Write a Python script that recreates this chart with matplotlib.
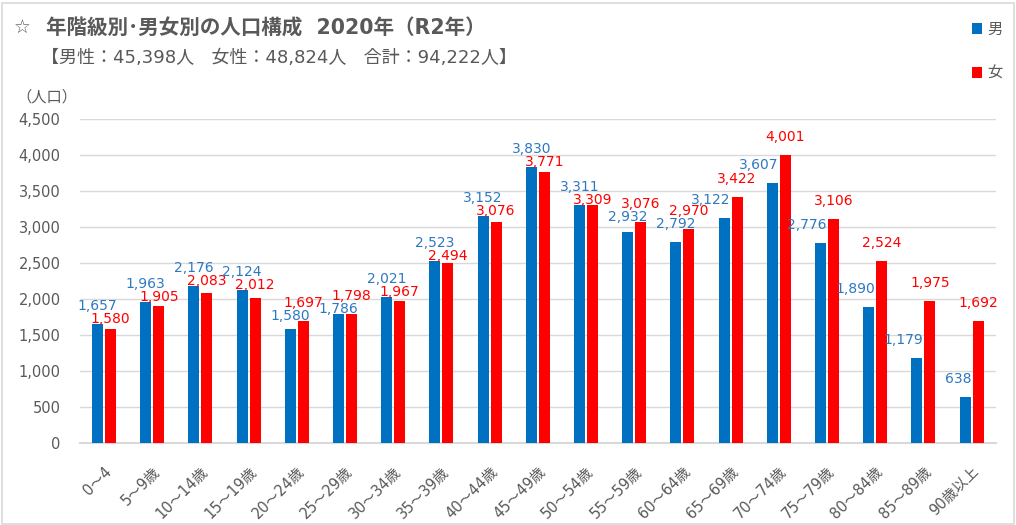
import numpy as np
import matplotlib.pyplot as plt
from matplotlib.patches import Rectangle

plt.rcParams['font.family'] = ['DejaVu Sans', 'Noto Sans CJK JP']

ages = ['0～4', '5～9歳', '10～14歳', '15～19歳', '20～24歳', '25～29歳', '30～34歳',
        '35～39歳', '40～44歳', '45～49歳', '50～54歳', '55～59歳', '60～64歳',
        '65～69歳', '70～74歳', '75～79歳', '80～84歳', '85～89歳', '90歳以上']
male = [1657, 1963, 2176, 2124, 1580, 1786, 2021, 2523, 3152, 3830,
        3311, 2932, 2792, 3122, 3607, 2776, 1890, 1179, 638]
female = [1580, 1905, 2083, 2012, 1697, 1798, 1967, 2494, 3076, 3771,
          3309, 3076, 2970, 3422, 4001, 3106, 2524, 1975, 1692]
yticks = [0, 500, 1000, 1500, 2000, 2500, 3000, 3500, 4000, 4500]

BLUE = '#0070C0'
RED = '#FF0000'
GREY = '#595959'

fig = plt.figure(figsize=(10.16, 5.25), dpi=100)
ax = fig.add_axes([0.0787, 0.1562, 0.9013, 0.6171])

x = np.arange(len(ages))
w = 0.23
off = 0.135
bm = ax.bar(x - off, male, w, color=BLUE, label='男', zorder=3)
bf = ax.bar(x + off, female, w, color=RED, label='女', zorder=3)

ax.set_xlim(-0.5, len(ages) - 0.5)
ax.set_ylim(0, 4500)

# data labels, placed like Excel does: 18px above the bar, nudged when they collide
ppu = ax.bbox.height / 4500  # pixels per person
pt = 72 / fig.dpi
for i in range(len(ages)):
    hm = male[i] * ppu + 18
    hf = female[i] * ppu + 18
    if abs(hm - hf) < 13:
        if male[i] >= female[i]:
            hf = hm - 13
        else:
            hm = hf - 13
    if female[i] * ppu > hm - 4:
        ax.annotate(f'{male[i]:,}', (x[i] + off - w / 2, 0), xytext=(-1 * pt, hm * pt),
                    textcoords='offset points', ha='right', va='center',
                    fontsize=10, color='#2E78C2', annotation_clip=False)
    else:
        ax.annotate(f'{male[i]:,}', (x[i] - off, 0), xytext=(0, hm * pt),
                    textcoords='offset points', ha='center', va='center',
                    fontsize=10, color='#2E78C2', annotation_clip=False)
    ax.annotate(f'{female[i]:,}', (x[i] + off, 0), xytext=(0, hf * pt),
                textcoords='offset points', ha='center', va='center',
                fontsize=10, color=RED, annotation_clip=False)

ax.set_yticks(yticks)
ax.set_yticklabels([f'{v:,}' for v in yticks], fontsize=10.5, color=GREY)
ax.set_xticks(x)
ax.set_xticklabels(ages, rotation=45, ha='right', rotation_mode='anchor',
                   fontsize=10.5, color=GREY)
ax.tick_params(axis='both', length=0)
ax.tick_params(axis='y', pad=14)
ax.tick_params(axis='x', pad=15)
ax.grid(axis='y', color='#D9D9D9', linewidth=1, zorder=0)
for s in ['top', 'right', 'left']:
    ax.spines[s].set_visible(False)
ax.spines['bottom'].set_color('#D9D9D9')
ax.spines['bottom'].set_linewidth(1.5)

fig.text(0.014, 0.945, '☆', fontsize=13.5, color=GREY, va='center',
         family=['DejaVu Sans'])
fig.text(0.045, 0.945, '年階級別･男女別の人口構成  2020年（R2年）',
         fontsize=14.8, fontweight='bold', color=GREY, va='center',
         family=['DejaVu Sans', 'Noto Sans CJK JP'])
fig.text(0.040, 0.889, '【男性：45,398人   女性：48,824人   合計：94,222人】',
         fontsize=13, color=GREY, va='center',
         family=['DejaVu Sans', 'Noto Sans CJK JP'])
fig.text(0.016, 0.815, '（人口）', fontsize=11, color=GREY, va='center',
         family=['Noto Sans CJK JP'])

fig.legend(handles=[bm, bf], loc='upper right', bbox_to_anchor=(1.0, 0.985),
           frameon=False, handlelength=0.7, handleheight=0.7, handletextpad=0.3,
           labelspacing=1.9, fontsize=11, labelcolor=GREY)

fig.patches.append(Rectangle((0.002, 0.002), 0.996, 0.992, transform=fig.transFigure,
                             fill=False, edgecolor='#D9D9D9', linewidth=1.2))

fig.savefig('out.png', dpi=100)
